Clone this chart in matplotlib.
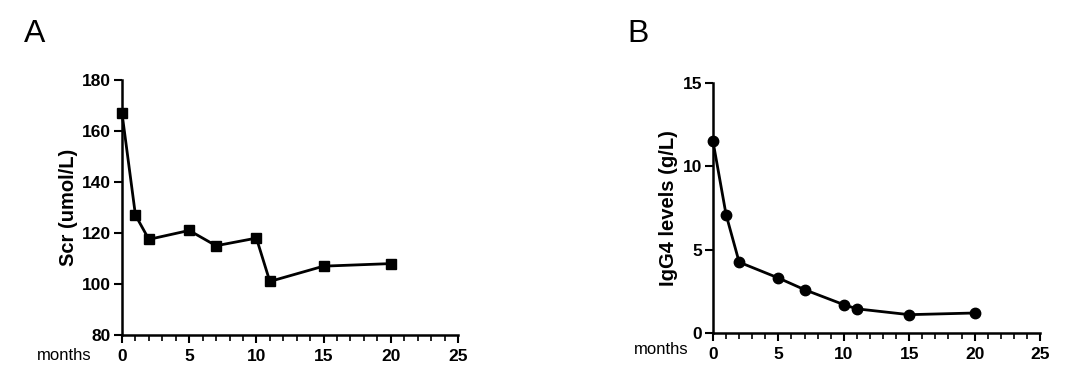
import matplotlib
matplotlib.use("Agg")
import matplotlib.pyplot as plt
from matplotlib.ticker import MultipleLocator

months = [0, 1, 2, 5, 7, 10, 11, 15, 20]
scr = [167, 127, 117.5, 121, 115, 118, 101, 107, 108]
igg4 = [11.5, 7.1, 4.25, 3.3, 2.6, 1.7, 1.45, 1.1, 1.2]

plt.rcParams['font.family'] = ['Liberation Sans', 'DejaVu Sans']

W, H = 1080, 392
fig = plt.figure(figsize=(W / 100, H / 100), dpi=100)

def make_ax(left, right, top, bottom):
    return fig.add_axes([left / W, 1 - bottom / H, (right - left) / W, (bottom - top) / H])

def style(ax):
    for s in ['top', 'right']:
        ax.spines[s].set_visible(False)
    for s in ['left', 'bottom']:
        ax.spines[s].set_linewidth(1.8)
    ax.set_xlim(0, 25)
    ax.xaxis.set_major_locator(MultipleLocator(5))
    ax.xaxis.set_minor_locator(MultipleLocator(1))
    ax.tick_params(axis='both', which='major', length=6, width=1.5, labelsize=12.5, pad=2)
    ax.tick_params(axis='x', which='major', pad=4)
    ax.tick_params(axis='x', which='minor', length=4, width=1.2)
    for lab in ax.get_xticklabels() + ax.get_yticklabels():
        lab.set_fontweight('bold')

axA = make_ax(122, 458, 80, 335)
axA.plot(months, scr, color='black', lw=2, marker='s', ms=7.5, clip_on=False)
axA.set_ylim(80, 180)
axA.yaxis.set_major_locator(MultipleLocator(20))
style(axA)
axA.set_ylabel('Scr (umol/L)', fontsize=14.5, fontweight='bold', labelpad=3)

axB = make_ax(713, 1040, 83, 333)
axB.plot(months, igg4, color='black', lw=2, marker='o', ms=7.5, clip_on=False)
axB.set_ylim(0, 15)
axB.yaxis.set_major_locator(MultipleLocator(5))
style(axB)
axB.set_ylabel('IgG4 levels (g/L)', fontsize=14.5, fontweight='bold', labelpad=3)

fig.text(24 / W, 1 - 34 / H, 'A', fontsize=23, va='center')
fig.text(627 / W, 1 - 34 / H, 'B', fontsize=23, va='center')
fig.text(64 / W, 1 - 355 / H, 'months', fontsize=12, ha='center', va='center')
fig.text(661 / W, 1 - 350 / H, 'months', fontsize=12, ha='center', va='center')

fig.savefig('out.png', dpi=100)
